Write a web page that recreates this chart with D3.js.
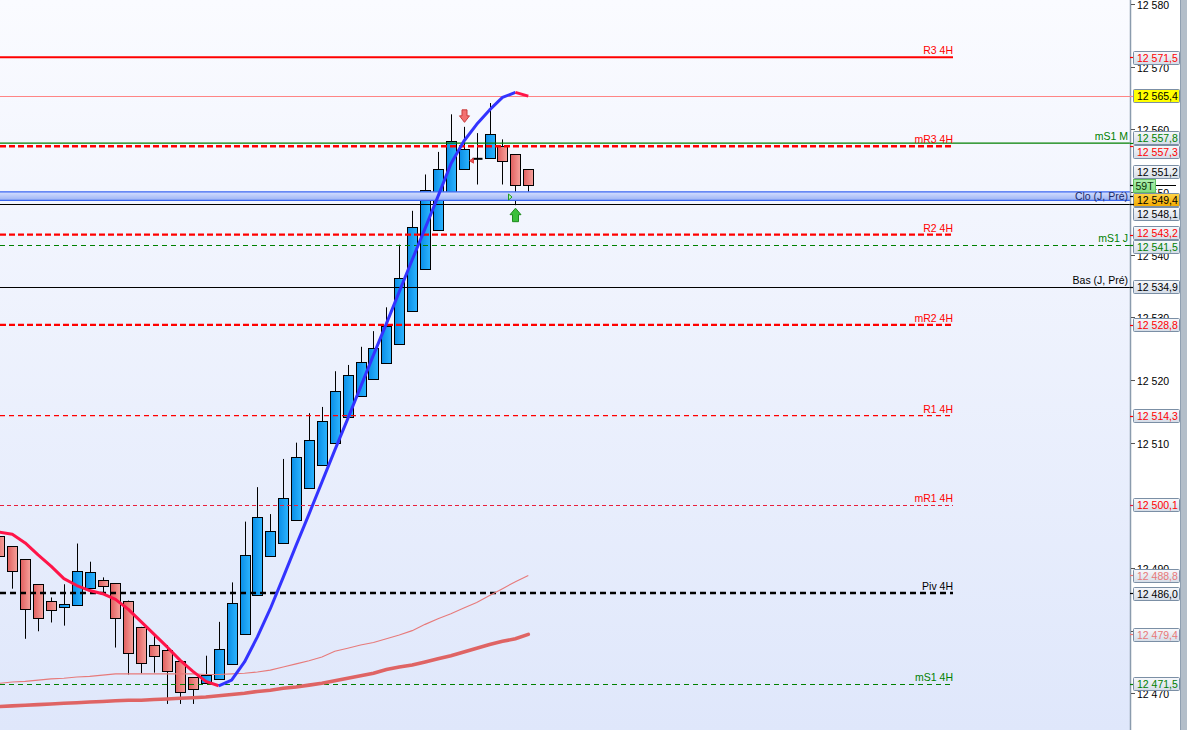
<!DOCTYPE html>
<html><head><meta charset="utf-8">
<script src="https://cdn.jsdelivr.net/npm/d3@7"></script>
<style>html,body{margin:0;padding:0;background:#fff;overflow:hidden}</style>
</head><body><svg id="c" width="1187" height="730"></svg>
<script>
// ---------- DATA ----------
const candleOpen  = [12495.1,12493.5,12491.4,12487.4,12484.8,12483.8,12484.1,12486.8,12488.1,12487.6,12484.8,12480.6,12477.7,12476.9,12475.1,12472.6,12471.6,12472.3,12474.7,12479.4,12485.7,12491.9,12494.0,12497.6,12502.7,12506.5,12509.9,12514.1,12517.4,12520.1,12522.7,12525.7,12531.0,12537.7,12543.9,12548.8,12553.6,12555.3,12555.4,12557.3,12556.0,12553.6];
const candleHigh  = [12495.1,12493.5,12491.4,12487.4,12485.3,12487.4,12493.9,12491.0,12488.5,12487.6,12484.8,12480.6,12479.3,12477.7,12475.1,12472.6,12476.0,12481.4,12487.7,12497.4,12502.9,12498.6,12507.4,12510.0,12514.7,12515.7,12521.4,12522.4,12525.3,12527.8,12531.6,12541.6,12547.0,12552.8,12556.4,12562.4,12560.4,12559.4,12564.2,12558.4,12556.0,12553.6];
const candleLow   = [12491.9,12486.7,12478.7,12479.9,12481.3,12480.8,12484.1,12486.8,12485.9,12477.3,12473.0,12473.2,12473.3,12468.3,12468.3,12468.3,12471.6,12472.3,12474.7,12479.4,12485.7,12491.9,12494.0,12497.6,12502.7,12506.5,12509.9,12514.1,12517.4,12520.1,12522.7,12525.7,12531.0,12537.7,12543.9,12548.8,12553.6,12551.2,12555.4,12551.2,12547.9,12548.8];
const candleClose = [12491.9,12489.5,12483.4,12482.0,12483.3,12484.2,12489.5,12489.3,12487.1,12482.0,12476.4,12474.8,12475.9,12473.5,12470.2,12470.7,12472.9,12477.0,12484.4,12492.0,12498.1,12495.9,12501.1,12507.7,12510.4,12513.5,12518.2,12520.8,12522.8,12525.1,12528.6,12536.2,12544.4,12550.3,12553.6,12558.2,12556.8,12555.3,12559.2,12554.9,12551.2,12551.2];

// colour-changing trend average (red when falling, blue when rising)
const maTrend = [12495.7,12495.4,12494.0,12492.1,12490.3,12488.3,12487.2,12486.4,12485.9,12485.0,12483.4,12481.4,12479.4,12477.4,12475.3,12473.5,12471.9,12471.2,12472.1,12475.0,12479.0,12483.5,12488.5,12493.6,12498.6,12503.7,12508.8,12513.8,12518.9,12524.0,12529.0,12534.1,12539.2,12544.2,12549.3,12554.5,12558.1,12560.8,12563.1,12565.1,12565.9,12565.3];
// thin pink average
const maMid = [12471.6,12471.8,12471.9,12472.1,12472.3,12472.4,12472.6,12472.7,12472.9,12473.1,12473.1,12473.1,12473.1,12473.1,12473.1,12473.1,12473.0,12473.0,12473.1,12473.2,12473.4,12473.7,12474.2,12474.7,12475.2,12475.8,12476.7,12477.2,12477.7,12478.1,12478.7,12479.3,12480.0,12481.0,12481.9,12482.7,12483.6,12484.5,12485.6,12486.7,12487.8,12488.8];
// thick pink average
const maLong = [12467.9,12468.0,12468.1,12468.2,12468.3,12468.4,12468.5,12468.6,12468.7,12468.8,12468.9,12468.9,12469.0,12469.1,12469.2,12469.3,12469.4,12469.6,12469.8,12470.0,12470.3,12470.5,12470.8,12471.0,12471.3,12471.6,12472.0,12472.4,12472.8,12473.2,12473.8,12474.2,12474.5,12475.0,12475.5,12476.0,12476.6,12477.2,12477.8,12478.3,12478.7,12479.4];

// horizontal levels
const levelKeys   = ["R3","hi","mS1M","mR3","clo","prev","R2","mS1J","bas","mR2","R1","mR1","piv","mS1"];
const levelLabels = ["R3 4H","","mS1 M","mR3 4H","Clo (J, Pré)","","R2 4H","mS1 J","Bas (J, Pré)","mR2 4H","R1 4H","mR1 4H","Piv 4H","mS1 4H"];
const levelValues = [12571.5,12565.4,12557.8,12557.3,12549.4,12548.1,12543.2,12541.5,12534.9,12528.8,12514.3,12500.1,12486.0,12471.5];

const tickValues = [12470,12480,12490,12500,12510,12520,12530,12540,12550,12560,12570,12580];

// signal markers: candle index and kind
const signalIndex = [36, 40, 37, 40];
const signalKind  = ["sellArrow","buyArrow","sellTri","buyTri"];
const signalValue = [12560.4, 12547.9, 12555.0, 12549.2];

const countdownText = "59T";

// ---------- STYLES ----------
const RED = "#ff0000", GREEN = "#008000";
const levelStyle = {
  R3:   {color:RED, w:2, dash:null, end:953, text:RED},
  hi:   {color:"#ff8585", w:1, dash:null, end:1130, text:"#000", fill:"#ffff00"},
  mS1M: {color:GREEN, w:1.2, dash:null, end:1130, text:GREEN, labelEnd:1128},
  mR3:  {color:RED, w:2.4, dash:"6,3", end:953, text:RED},
  clo:  {band:true, end:1130, text:"#000", fill:"orange", labelEnd:1128, labelColor:"#1c2a66"},
  prev: {color:"#000", w:1, dash:null, end:1130, text:"#000"},
  R2:   {color:RED, w:2.4, dash:"6,3", end:953, text:RED},
  mS1J: {color:GREEN, w:1, dash:"5,4", end:1130, text:GREEN, labelEnd:1128},
  bas:  {color:"#000", w:1, dash:null, end:1130, text:"#000", labelEnd:1128},
  mR2:  {color:RED, w:2.4, dash:"6,3", end:953, text:RED},
  R1:   {color:RED, w:1.3, dash:"5,4", end:953, text:RED},
  mR1:  {color:"#e8203c", w:1, dash:"4,3", end:953, text:RED},
  piv:  {color:"#000", w:2.6, dash:"6,4", end:953, text:"#000"},
  mS1:  {color:GREEN, w:1, dash:"5,4", end:953, text:GREEN}
};

// ---------- SETUP ----------
const W = 1187, H = 730, AX = 1130;
const svg = d3.select("#c");
const FONT = "'Liberation Sans', Arial, sans-serif";
const x = d3.scaleLinear().domain([0, candleOpen.length - 1]).range([-0.6, 528.3]);
const y = d3.scaleLinear().domain([12470, 12570]).range([693.3, 66.7]);
const loc = d3.formatLocale({decimal:",", thousands:" ", grouping:[3], currency:["",""]});
const fmtTag = loc.format(",.1f"), fmtTick = loc.format(",d");

const defs = svg.append("defs");
function lg(id, x2, y2, stops){
  const g = defs.append("linearGradient").attr("id", id).attr("x1",0).attr("y1",0).attr("x2",x2).attr("y2",y2);
  stops.forEach(s => g.append("stop").attr("offset", s[0]).attr("stop-color", s[1]));
}
lg("bg", 0, 1, [[0,"#fafbff"],[1,"#dfe7fb"]]);
lg("blueBody", 1, 0, [[0,"#0a8ee6"],[1,"#2cb4ff"]]);
lg("redBody", 1, 0, [[0,"#e05e5e"],[1,"#f6a29c"]]);
lg("band", 0, 1, [[0,"#d6e0ff"],[1,"#9cb3f4"]]);
lg("tag", 0, 1, [[0,"#f8f9fc"],[1,"#d4dce7"]]);
lg("tagOrange", 0, 1, [[0,"#ffd54a"],[1,"#f2a900"]]);
lg("tagGreen", 0, 1, [[0,"#b0f0b0"],[1,"#80dc80"]]);

// background
svg.append("rect").attr("width", W).attr("height", H).attr("fill", "#ffffff");
svg.append("rect").attr("width", AX).attr("height", H).attr("fill", "url(#bg)");

// ---------- CANDLES ----------
const cg = svg.append("g");
const idx = d3.range(candleOpen.length);
idx.forEach(i => {
  const cx = Math.round(x(i)) + 0.5;
  const o = candleOpen[i], c = candleClose[i];
  cg.append("line").attr("x1", cx).attr("x2", cx)
    .attr("y1", y(candleHigh[i])).attr("y2", y(candleLow[i]))
    .attr("stroke", "#000").attr("stroke-width", 1);
  if (o === c) {
    cg.append("line").attr("x1", cx - 5).attr("x2", cx + 5).attr("y1", y(o)).attr("y2", y(o))
      .attr("stroke", "#000").attr("stroke-width", 2);
  } else {
    const top = Math.round(y(Math.max(o, c))) + 0.5, bot = Math.round(y(Math.min(o, c))) + 0.5;
    cg.append("rect").attr("x", cx - 5).attr("y", top).attr("width", 10).attr("height", Math.max(1, bot - top))
      .attr("fill", c > o ? "url(#blueBody)" : "url(#redBody)")
      .attr("stroke", "#000").attr("stroke-width", 1);
  }
});

// ---------- LEVEL LINES ----------
const lg2 = svg.append("g");
levelKeys.forEach((k, i) => {
  const s = levelStyle[k], v = levelValues[i];
  const yy = y(v);
  if (s.band) {
    lg2.append("rect").attr("x", 0).attr("y", yy - 4).attr("width", s.end).attr("height", 8.5).attr("fill", "url(#band)");
    [yy - 4, yy + 4.5].forEach(b => lg2.append("line").attr("x1", 0).attr("x2", s.end).attr("y1", b).attr("y2", b)
      .attr("stroke", "#3a66f0").attr("stroke-width", 1.3));
  } else {
    const yl = s.w % 2 === 1 ? Math.round(yy) + 0.5 : yy;
    lg2.append("line").attr("x1", 0).attr("x2", s.end).attr("y1", yl).attr("y2", yl)
      .attr("stroke", s.color).attr("stroke-width", s.w).attr("stroke-dasharray", s.dash);
  }
});

// ---------- MOVING AVERAGES ----------
const lineGen = d3.line().x(d => x(d[0])).y(d => y(d[1]));
svg.append("path").attr("d", lineGen(idx.map(i => [i, maMid[i]])))
  .attr("fill", "none").attr("stroke", "#e77a7a").attr("stroke-width", 1.1);
svg.append("path").attr("d", lineGen(idx.map(i => [i, maLong[i]])))
  .attr("fill", "none").attr("stroke", "#df6464").attr("stroke-width", 3.6).attr("stroke-linecap", "round");
let segs = [];
idx.slice(1).forEach(i => {
  const col = maTrend[i] >= maTrend[i - 1] ? "#3333ff" : "#ff1448";
  if (segs.length && segs[segs.length - 1].col === col) segs[segs.length - 1].pts.push(i);
  else segs.push({col, pts: [i - 1, i]});
});
segs.forEach(sg => svg.append("path").attr("d", lineGen(sg.pts.map(i => [i, maTrend[i]])))
  .attr("fill", "none").attr("stroke", sg.col).attr("stroke-width", 3).attr("stroke-linejoin", "round"));

// ---------- SIGNALS ----------
signalIndex.forEach((k, j) => {
  const cx = Math.round(x(k)) + 0.5, vy = y(signalValue[j]);
  const kind = signalKind[j];
  let p;
  if (kind === "sellArrow") {
    const t = vy - 17;
    p = `M${cx-2.5},${t}L${cx+2.5},${t}L${cx+2.5},${t+6}L${cx+5},${t+6}L${cx},${t+12.5}L${cx-5},${t+6}L${cx-2.5},${t+6}Z`;
    svg.append("path").attr("d", p).attr("fill", "#f27070").attr("stroke", "#c83a3a").attr("stroke-width", 1);
  } else if (kind === "buyArrow") {
    const t = vy + 3;
    p = `M${cx},${t}L${cx+5.5},${t+6.5}L${cx+3},${t+6.5}L${cx+3},${t+13.5}L${cx-3},${t+13.5}L${cx-3},${t+6.5}L${cx-5.5},${t+6.5}Z`;
    svg.append("path").attr("d", p).attr("fill", "#3cc03c").attr("stroke", "#1f8a1f").attr("stroke-width", 1);
  } else if (kind === "sellTri") {
    const tx = cx - 4;
    p = `M${tx},${vy-2.5}L${tx},${vy+2.5}L${tx-4},${vy}Z`;
    svg.append("path").attr("d", p).attr("fill", "#f05050").attr("stroke", "#d03030").attr("stroke-width", 0.8);
  } else {
    const tx = cx - 7;
    p = `M${tx},${vy-3}L${tx},${vy+3}L${tx+3.5},${vy}Z`;
    svg.append("path").attr("d", p).attr("fill", "#b8f0b8").attr("stroke", "#1f9a1f").attr("stroke-width", 1);
  }
});

// ---------- LEVEL LABELS ----------
levelKeys.forEach((k, i) => {
  const lab = levelLabels[i];
  if (!lab) return;
  const s = levelStyle[k], yy = y(levelValues[i]);
  svg.append("text").attr("x", s.labelEnd || 953).attr("y", s.band ? yy + 4 : yy - 3)
    .attr("text-anchor", "end").attr("font-family", FONT).attr("font-size", "10.5px")
    .attr("fill", s.labelColor || s.text).text(lab);
});

// ---------- RIGHT AXIS ----------
svg.append("rect").attr("x", AX).attr("y", 0).attr("width", 50).attr("height", H).attr("fill", "#ffffff");
svg.append("rect").attr("x", 1180).attr("y", 0).attr("width", 7).attr("height", H).attr("fill", "#b3bec9");
svg.append("line").attr("x1", 1180.5).attr("x2", 1180.5).attr("y1", 0).attr("y2", H).attr("stroke", "#8f9fb0");
svg.append("line").attr("x1", AX + 0.5).attr("x2", AX + 0.5).attr("y1", 0).attr("y2", H)
  .attr("stroke", "#8a9bad").attr("stroke-width", 1.5);

// price tags with simple overlap resolution
const last = candleClose[candleClose.length - 1];
let tags = levelKeys.map((k, i) => ({v: levelValues[i], text: levelStyle[k].text, fill: levelStyle[k].fill, tick: levelStyle[k].color || "#000"}));
tags.push({v: maMid[maMid.length - 1], text: "#e87878", tick: "#e87878"});
tags.push({v: maLong[maLong.length - 1], text: "#e87878", tick: "#e87878"});
tags.push({v: last, text: "#000", tick: "#000", current: true});
tags.push({v: last, countdown: true});
tags.forEach(t => t.y0 = y(t.v));
tags.sort((a, b) => a.y0 - b.y0 || (a.current ? -1 : b.current ? 1 : 0));
const TH = 14;
let blocks = tags.map(t => ({items: [t]}));
const bStart = b => d3.mean(b.items, t => t.y0) - (b.items.length - 1) * TH / 2;
let merged = true;
while (merged) {
  merged = false;
  for (let i = 0; i < blocks.length - 1; i++) {
    const a = blocks[i], b = blocks[i + 1];
    if (bStart(a) + a.items.length * TH > bStart(b) + 0.01) {
      a.items = a.items.concat(b.items); blocks.splice(i + 1, 1); merged = true; break;
    }
  }
}
blocks.forEach(b => { const s = bStart(b); b.items.forEach((t, j) => t.y = s + j * TH); });

// regular ticks (labels mostly hidden behind a tag are not drawn, as in the source)
tickValues.forEach(t => {
  const yy = Math.round(y(t)) + 0.5;
  svg.append("line").attr("x1", AX + 1).attr("x2", AX + 5).attr("y1", yy).attr("y2", yy).attr("stroke", "#555");
  const covered = tags.some(g => Math.abs(g.y - yy) < 5.5);
  if (!covered)
    svg.append("text").attr("x", 1137).attr("y", yy + 4).attr("font-family", FONT).attr("font-size", "10.5px")
      .attr("fill", "#000").text(fmtTick(t));
});

// current price line into axis
const ly = Math.round(y(last)) + 0.5;
svg.append("line").attr("x1", AX).attr("x2", 1176).attr("y1", ly).attr("y2", ly).attr("stroke", "#000");

const drawOrder = tags.filter(t => !t.countdown).concat(tags.filter(t => t.countdown));
drawOrder.forEach(t => {
  const ty = Math.round(t.y0) + 0.5;
  if (t.countdown) {
    svg.append("rect").attr("x", 1133.5).attr("y", Math.round(t.y - 6.5) + 0.5).attr("width", 22).attr("height", 13)
      .attr("fill", "url(#tagGreen)").attr("stroke", "#5fbf5f");
    svg.append("text").attr("x", 1135.5).attr("y", Math.round(t.y - 6.5) + 11).attr("font-family", FONT)
      .attr("font-size", "10.5px").attr("fill", "#0a300a").text(countdownText);
    return;
  }
  svg.append("line").attr("x1", AX).attr("x2", AX + 4).attr("y1", ty).attr("y2", ty).attr("stroke", t.tick).attr("stroke-width", 1.2);
  const by = Math.round(t.y - 6.5) + 0.5;
  const fill = t.fill === "orange" ? "url(#tagOrange)" : (t.fill || "url(#tag)");
  svg.append("rect").attr("x", 1133.5).attr("y", by).attr("width", 46).attr("height", 13).attr("rx", 1)
    .attr("fill", fill).attr("stroke", "#7b8fa5");
  svg.append("text").attr("x", 1137).attr("y", by + 10.5).attr("font-family", FONT).attr("font-size", "10.5px")
    .attr("fill", t.text).text(fmtTag(t.v));
});
</script>
</body></html>
